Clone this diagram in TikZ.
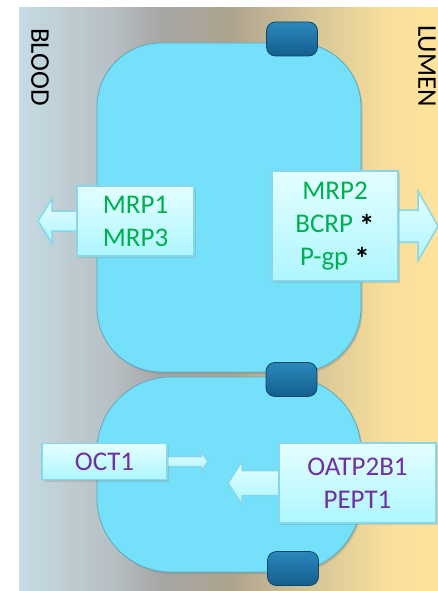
\documentclass[tikz,border=0pt]{standalone}
\usepackage{fontspec}
\setmainfont{Carlito}
\usepackage{tikz}
\usetikzlibrary{calc,shadows,positioning}

\definecolor{bgA}{HTML}{C6DBE3}
\definecolor{bgB}{HTML}{B7C0C4}
\definecolor{bgC}{HTML}{A6A6A6}
\definecolor{bgD}{HTML}{ADA48F}
\definecolor{bgE}{HTML}{D9C898}
\definecolor{bgF}{HTML}{F8DF9A}
\definecolor{bgG}{HTML}{FDE39C}
\definecolor{cellFill}{HTML}{74E0FA}
\definecolor{cellEdge}{HTML}{5FA9BE}
\definecolor{juncTop}{HTML}{2B87BC}
\definecolor{juncBot}{HTML}{135F8E}
\definecolor{juncEdge}{HTML}{0D4566}
\definecolor{boxTop}{HTML}{E4FEFF}
\definecolor{boxBot}{HTML}{ADF6FE}
\definecolor{boxLine}{HTML}{86D6EC}
\definecolor{effluxGreen}{HTML}{00B050}
\definecolor{uptakePurple}{HTML}{7030A0}

\pgfdeclarehorizontalshading{membrane}{100bp}{color(0bp)=(bgA); color(25bp)=(bgA); color(36bp)=(bgB); color(42bp)=(bgC); color(50bp)=(bgD); color(61bp)=(bgE); color(69bp)=(bgF); color(75bp)=(bgG); color(100bp)=(bgG)}

\newcommand{\bigstar}{{\color{black}\fontsize{31}{33}\selectfont\raisebox{-4pt}{\textbf{*}}}}

\begin{document}
\begin{tikzpicture}
	% Styles
	[
	x=1pt,y=-1pt,
	cell/.style={draw=cellEdge, line width=0.8pt, fill=cellFill, inner sep=0pt, drop shadow={shadow xshift=1.5pt, shadow yshift=-2pt, opacity=0.35}},
	junction/.style={rounded corners=9pt, draw=juncEdge, line width=0.8pt, top color=juncTop, bottom color=juncBot, minimum width=51pt, minimum height=34pt, inner sep=0pt},
	tbox/.style={draw=boxLine, line width=1.5pt, top color=boxTop, bottom color=boxBot, inner sep=0pt, align=center, font=\fontsize{27}{33}\selectfont, drop shadow={opacity=0.25, shadow xshift=2pt, shadow yshift=-2pt}},
	pump/.style={draw=boxLine, line width=1.5pt, top color=boxTop, bottom color=boxBot},
	side/.style={rotate=-90, font=\fontsize{27}{33}\selectfont}
	]
	\useasboundingbox (0,0) rectangle (438,591);
	\fill[shading=membrane] (19,8) rectangle (438,591);

	% Nodes
	\node at (40,67)	(blood)	[side] {BLOOD};
	\node at (427,66)	(lumen)	[side] {LUMEN};

	\node at (229,207.5)	(cellA)	[cell, rounded corners=64pt, minimum width=264pt, minimum height=329pt] {};
	\node at (229,474.5)	(cellB)	[cell, rounded corners=74pt, minimum width=264pt, minimum height=195pt] {};

	\node at (292,39)	(tj1)	[junction] {};
	\node at (291.5,379.5)	(tj2)	[junction] {};
	\node at (293,568.5)	(tj3)	[junction] {};

	\coordinate (toblood)	at (38,221);
	\coordinate (tolumen)	at (438,226);
	\coordinate (octtip)	at (208,461.5);
	\coordinate (oatptip)	at (228,483);

	\path (135.5,221) coordinate (mrp13c);
	\path (335,226) coordinate (mrp2c);
	\path (104.5,461.5) coordinate (oct1c);
	\path (357.5,483) coordinate (oatpc);

	% Connections
	\path[pump] ($(mrp13c)+(-57,-10)$) -- ($(toblood)+(14,-10)$) -- ($(toblood)+(14,-22)$) -- (toblood)
		-- ($(toblood)+(14,22)$) -- ($(toblood)+(14,10)$) -- ($(mrp13c)+(-57,10)$);
	\path[pump] ($(mrp2c)+(62,-16)$) -- ($(tolumen)+(-20,-16)$) -- ($(tolumen)+(-20,-35)$) -- (tolumen)
		-- ($(tolumen)+(-20,35)$) -- ($(tolumen)+(-20,16)$) -- ($(mrp2c)+(62,16)$);
	\path[pump] ($(oct1c)+(61,-5)$) -- ($(octtip)+(-7,-5)$) -- ($(octtip)+(-7,-10)$) -- (octtip)
		-- ($(octtip)+(-7,10)$) -- ($(octtip)+(-7,5)$) -- ($(oct1c)+(61,5)$);
	\path[pump] ($(oatpc)+(-77,-12.5)$) -- ($(oatptip)+(14,-12.5)$) -- ($(oatptip)+(14,-21.5)$) -- (oatptip)
		-- ($(oatptip)+(14,21.5)$) -- ($(oatptip)+(14,12.5)$) -- ($(oatpc)+(-77,12.5)$);

	% Transporter boxes
	\node at (mrp13c)	(mrp13)	[tbox, text=effluxGreen, minimum width=117pt, minimum height=70pt] {MRP1\\MRP3};
	\node at (mrp2c)	(mrp2)	[tbox, text=effluxGreen, minimum width=126pt, minimum height=110pt]
		{MRP2\\BCRP \bigstar\\P-gp \bigstar};
	\node at (oct1c)	(oct1)	[tbox, text=uptakePurple, minimum width=125pt, minimum height=36pt] {OCT1};
	\node at (oatpc)	(oatp)	[tbox, text=uptakePurple, minimum width=157pt, minimum height=80pt] {OATP2B1\\PEPT1};

\end{tikzpicture}
\end{document}
